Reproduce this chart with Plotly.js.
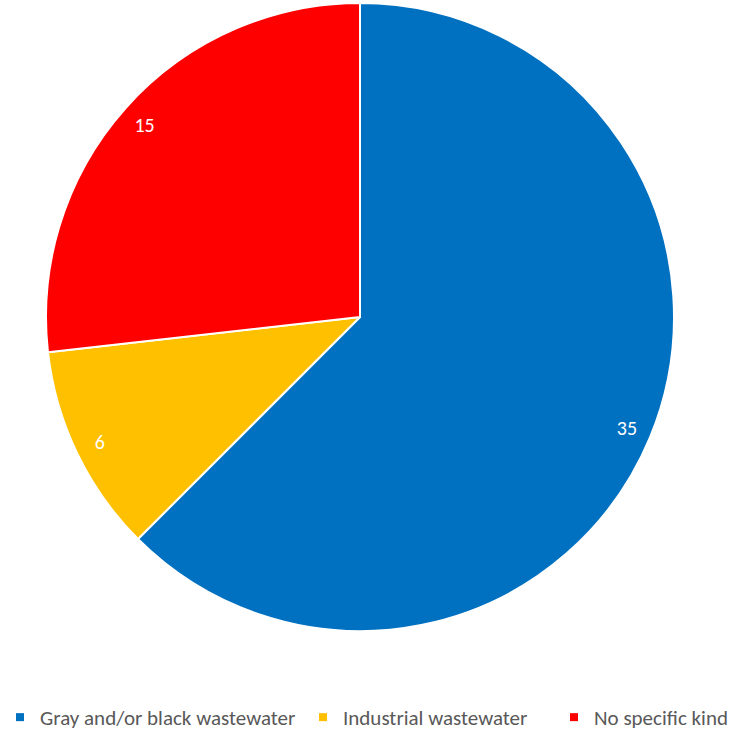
<!DOCTYPE html>
<html>
<head>
<meta charset="utf-8">
<script src="https://cdn.plot.ly/plotly-3.0.1.min.js"></script>
<style>html,body{margin:0;padding:0;background:#fff;}#chart{width:733px;height:738px;}</style>
</head>
<body>
<div id="chart"></div>
<script>
const categories = ["Gray and/or black wastewater", "Industrial wastewater", "No specific kind"];
const values = [35, 6, 15];
const colors = ["#0070C0", "#FFC000", "#FF0000"];

const domain = {x: [46/733, 674/733], y: [107/738, 735/738]};
const font = "Calibri, Carlito, 'Liberation Sans Narrow', 'Open Sans', sans-serif";

const pieTrace = {
  type: "pie",
  labels: categories,
  values: values,
  sort: false,
  direction: "clockwise",
  rotation: 0,
  marker: {colors: colors, line: {color: "#ffffff", width: 2}},
  textinfo: "none",
  hoverinfo: "label+value",
  domain: domain,
  showlegend: false
};

const labelTrace = {
  type: "pie",
  labels: categories,
  values: values,
  sort: false,
  direction: "clockwise",
  rotation: 0,
  hole: 0.84,
  marker: {colors: ["rgba(0,0,0,0)", "rgba(0,0,0,0)", "rgba(0,0,0,0)"], line: {width: 0}},
  textinfo: "value",
  textposition: "inside",
  insidetextorientation: "horizontal",
  textfont: {color: "#ffffff", size: 20, family: font},
  hoverinfo: "skip",
  domain: domain,
  showlegend: false
};

// legend entries (one legend per category so each can be placed like the reference)
const legendIds = ["legend", "legend2", "legend3"];
const legendTraces = categories.map((c, i) => ({
  type: "scatter",
  mode: "markers",
  x: [null],
  y: [null],
  name: c,
  marker: {symbol: "square", size: 8, color: colors[i]},
  legend: legendIds[i],
  showlegend: true,
  hoverinfo: "skip"
}));

const legFont = {family: font, size: 21, color: "#595959"};
const legBase = {orientation: "h", y: 0, yanchor: "bottom", font: legFont, bgcolor: "rgba(0,0,0,0)", itemwidth: 30};

const layout = {
  width: 733,
  height: 738,
  margin: {l: 0, r: 0, t: 0, b: 0},
  paper_bgcolor: "#ffffff",
  plot_bgcolor: "rgba(0,0,0,0)",
  showlegend: true,
  xaxis: {visible: false, showgrid: false, zeroline: false},
  yaxis: {visible: false, showgrid: false, zeroline: false},
  legend: Object.assign({}, legBase, {x: 0, xanchor: "left"}),
  legend2: Object.assign({}, legBase, {x: 303/733, xanchor: "left"}),
  legend3: Object.assign({}, legBase, {x: 1, xanchor: "right"})
};

Plotly.newPlot("chart", [pieTrace, labelTrace].concat(legendTraces), layout, {displayModeBar: false});
</script>
</body>
</html>
